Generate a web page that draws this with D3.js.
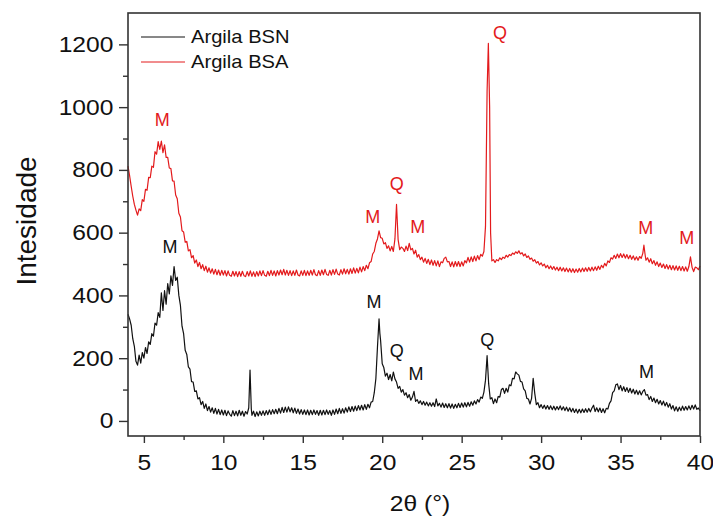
<!DOCTYPE html>
<html>
<head>
<meta charset="utf-8">
<script src="https://cdn.jsdelivr.net/npm/d3@7/dist/d3.min.js"></script>
<style>
  body { margin: 0; background: #fff; }
  svg text { font-family: "Liberation Sans", Arial, sans-serif; }
</style>
</head>
<body>
<div id="chart"></div>
<script>
// 2theta (deg), intensity
var bsn = [[4.0,340],[4.1,325],[4.2,305],[4.3,262],[4.4,238],[4.5,190],[4.6,178],[4.7,210],[4.8,184],[4.9,218],[5.0,200],[5.1,234],[5.2,215],[5.3,252],[5.4,244],[5.5,278],[5.6,270],[5.7,312],[5.8,305],[5.9,345],[6.0,330],[6.1,408],[6.2,352],[6.3,415],[6.4,372],[6.5,438],[6.6,405],[6.7,462],[6.8,432],[6.9,492],[7.0,448],[7.1,458],[7.2,400],[7.3,368],[7.4,302],[7.5,278],[7.6,225],[7.7,212],[7.8,172],[7.9,165],[8.0,125],[8.1,124],[8.2,94],[8.3,96],[8.4,70],[8.5,74],[8.6,52],[8.7,62],[8.8,40],[8.9,54],[9.0,33],[9.1,46],[9.2,28],[9.3,42],[9.4,24],[9.5,40],[9.6,22],[9.7,37],[9.8,20],[9.9,35],[10.0,19],[10.1,34],[10.2,17],[10.3,32],[10.4,21],[10.5,15],[10.6,33],[10.7,17],[10.8,31],[10.9,16],[11.0,34],[11.1,18],[11.2,31],[11.3,15],[11.4,30],[11.5,22],[11.6,42],[11.68,162],[11.76,38],[11.8,18],[11.9,31],[12.0,14],[12.1,29],[12.2,16],[12.3,31],[12.4,18],[12.5,32],[12.6,18],[12.7,33],[12.8,20],[12.9,35],[13.0,21],[13.1,36],[13.2,23],[13.3,37],[13.4,23],[13.5,40],[13.6,25],[13.7,43],[13.8,27],[13.9,44],[14.0,28],[14.1,45],[14.2,29],[14.3,42],[14.4,26],[14.5,41],[14.6,24],[14.7,38],[14.8,22],[14.9,36],[15.0,21],[15.1,35],[15.2,20],[15.3,35],[15.4,19],[15.5,34],[15.6,20],[15.7,35],[15.8,21],[15.9,33],[16.0,18],[16.1,34],[16.2,19],[16.3,34],[16.4,20],[16.5,35],[16.6,21],[16.7,33],[16.8,18],[16.9,35],[17.0,21],[17.1,38],[17.2,23],[17.3,40],[17.4,24],[17.5,39],[17.6,25],[17.7,42],[17.8,28],[17.9,45],[18.0,30],[18.1,46],[18.2,31],[18.3,47],[18.4,33],[18.5,49],[18.6,35],[18.7,50],[18.8,35],[18.9,52],[19.0,37],[19.1,53],[19.2,42],[19.3,60],[19.4,62],[19.5,90],[19.6,135],[19.7,235],[19.8,325],[19.85,280],[19.9,255],[20.0,182],[20.1,170],[20.2,143],[20.3,152],[20.4,132],[20.5,148],[20.6,128],[20.7,156],[20.8,134],[20.9,124],[21.0,104],[21.1,110],[21.2,92],[21.3,100],[21.4,82],[21.5,90],[21.6,74],[21.7,84],[21.8,66],[21.9,76],[22.0,94],[22.1,62],[22.2,68],[22.3,56],[22.4,64],[22.5,52],[22.6,62],[22.7,50],[22.8,60],[22.9,48],[23.0,58],[23.1,47],[23.2,58],[23.3,46],[23.4,70],[23.5,48],[23.6,56],[23.7,44],[23.8,57],[23.9,43],[24.0,55],[24.1,42],[24.2,55],[24.3,41],[24.4,54],[24.5,40],[24.6,53],[24.7,42],[24.8,56],[24.9,43],[25.0,57],[25.1,44],[25.2,58],[25.3,45],[25.4,59],[25.5,47],[25.6,61],[25.7,50],[25.8,64],[25.9,54],[26.0,68],[26.1,60],[26.2,76],[26.3,72],[26.4,92],[26.5,130],[26.6,208],[26.7,118],[26.8,70],[26.9,74],[27.0,55],[27.1,70],[27.2,58],[27.3,78],[27.4,76],[27.5,100],[27.6,104],[27.7,88],[27.8,104],[27.9,92],[28.0,115],[28.1,112],[28.2,136],[28.3,134],[28.4,156],[28.5,150],[28.6,146],[28.7,126],[28.8,124],[28.9,102],[29.0,96],[29.1,72],[29.2,70],[29.3,54],[29.4,72],[29.5,136],[29.6,88],[29.7,52],[29.8,58],[29.9,42],[30.0,52],[30.1,40],[30.2,50],[30.3,38],[30.4,49],[30.5,37],[30.6,48],[30.7,36],[30.8,47],[30.9,35],[31.0,46],[31.1,36],[31.2,48],[31.3,35],[31.4,45],[31.5,33],[31.6,44],[31.7,31],[31.8,42],[31.9,29],[32.0,40],[32.1,27],[32.2,38],[32.3,25],[32.4,37],[32.5,26],[32.6,38],[32.7,27],[32.8,39],[32.9,28],[33.0,40],[33.1,29],[33.2,41],[33.3,50],[33.4,30],[33.5,42],[33.6,29],[33.7,41],[33.8,27],[33.9,39],[34.0,26],[34.1,40],[34.2,38],[34.3,56],[34.4,64],[34.5,90],[34.6,96],[34.7,115],[34.8,118],[34.9,100],[35.0,113],[35.1,96],[35.2,109],[35.3,94],[35.4,106],[35.5,91],[35.6,104],[35.7,89],[35.8,101],[35.9,86],[36.0,98],[36.1,84],[36.2,96],[36.3,83],[36.4,94],[36.5,100],[36.6,82],[36.7,84],[36.8,68],[36.9,78],[37.0,62],[37.1,73],[37.2,58],[37.3,69],[37.4,54],[37.5,65],[37.6,51],[37.7,63],[37.8,48],[37.9,59],[38.0,44],[38.1,55],[38.2,38],[38.3,49],[38.4,32],[38.5,45],[38.6,31],[38.7,44],[38.8,33],[38.9,47],[39.0,34],[39.1,46],[39.2,35],[39.3,48],[39.4,36],[39.5,50],[39.6,38],[39.7,51],[39.8,37],[39.9,41],[40.0,33]];

var bsa = [[4.0,812],[4.1,782],[4.2,748],[4.3,716],[4.4,690],[4.5,672],[4.6,656],[4.7,676],[4.8,670],[4.9,705],[5.0,700],[5.1,738],[5.2,735],[5.3,776],[5.4,775],[5.5,812],[5.6,808],[5.7,858],[5.8,850],[5.9,890],[6.0,865],[6.1,892],[6.2,855],[6.3,880],[6.4,840],[6.5,840],[6.6,806],[6.7,804],[6.8,765],[6.9,764],[7.0,720],[7.1,708],[7.2,662],[7.3,650],[7.4,606],[7.5,602],[7.6,570],[7.7,572],[7.8,542],[7.9,546],[8.0,520],[8.1,527],[8.2,503],[8.3,513],[8.4,492],[8.5,505],[8.6,485],[8.7,498],[8.8,479],[8.9,493],[9.0,474],[9.1,488],[9.2,471],[9.3,485],[9.4,468],[9.5,483],[9.6,466],[9.7,481],[9.8,464],[9.9,480],[10.0,465],[10.1,479],[10.2,462],[10.3,478],[10.4,464],[10.5,461],[10.6,477],[10.7,462],[10.8,476],[10.9,460],[11.0,476],[11.1,461],[11.2,477],[11.3,463],[11.4,460],[11.5,476],[11.6,462],[11.7,478],[11.8,461],[11.9,475],[12.0,460],[12.1,476],[12.2,462],[12.3,478],[12.4,463],[12.5,479],[12.6,464],[12.7,461],[12.8,477],[12.9,463],[13.0,480],[13.1,464],[13.2,478],[13.3,462],[13.4,479],[13.5,465],[13.6,481],[13.7,466],[13.8,483],[13.9,465],[14.0,480],[14.1,464],[14.2,479],[14.3,463],[14.4,478],[14.5,464],[14.6,481],[14.7,465],[14.8,462],[14.9,478],[15.0,464],[15.1,480],[15.2,463],[15.3,478],[15.4,464],[15.5,480],[15.6,465],[15.7,482],[15.8,466],[15.9,463],[16.0,479],[16.1,464],[16.2,481],[16.3,466],[16.4,483],[16.5,467],[16.6,464],[16.7,480],[16.8,465],[16.9,482],[17.0,467],[17.1,484],[17.2,468],[17.3,465],[17.4,482],[17.5,468],[17.6,485],[17.7,469],[17.8,483],[17.9,468],[18.0,485],[18.1,470],[18.2,488],[18.3,471],[18.4,486],[18.5,472],[18.6,490],[18.7,475],[18.8,492],[18.9,479],[19.0,496],[19.1,485],[19.2,504],[19.3,508],[19.4,532],[19.5,540],[19.6,566],[19.7,580],[19.8,606],[19.9,584],[20.0,582],[20.1,564],[20.2,568],[20.3,550],[20.4,558],[20.5,542],[20.6,556],[20.7,540],[20.8,580],[20.9,690],[21.0,578],[21.1,546],[21.2,554],[21.3,550],[21.4,540],[21.5,557],[21.6,543],[21.7,566],[21.8,545],[21.9,550],[22.0,532],[22.1,544],[22.2,522],[22.3,530],[22.4,514],[22.5,522],[22.6,506],[22.7,518],[22.8,502],[22.9,515],[23.0,498],[23.1,513],[23.2,496],[23.3,511],[23.4,494],[23.5,510],[23.6,492],[23.7,507],[23.8,504],[23.9,518],[24.0,522],[24.1,507],[24.2,508],[24.3,492],[24.4,507],[24.5,491],[24.6,508],[24.7,493],[24.8,508],[24.9,492],[25.0,507],[25.1,494],[25.2,511],[25.3,504],[25.4,521],[25.5,506],[25.6,523],[25.7,508],[25.8,525],[25.9,510],[26.0,527],[26.1,514],[26.2,531],[26.3,525],[26.4,540],[26.5,620],[26.6,1050],[26.68,1203],[26.76,1000],[26.82,600],[26.9,510],[27.0,514],[27.1,505],[27.2,514],[27.3,510],[27.4,520],[27.5,514],[27.6,522],[27.7,518],[27.8,528],[27.9,522],[28.0,530],[28.1,527],[28.2,535],[28.3,531],[28.4,539],[28.5,534],[28.6,542],[28.7,532],[28.8,536],[28.9,526],[29.0,532],[29.1,521],[29.2,526],[29.3,515],[29.4,519],[29.5,509],[29.6,514],[29.7,503],[29.8,508],[29.9,497],[30.0,504],[30.1,494],[30.2,500],[30.3,488],[30.4,496],[30.5,485],[30.6,494],[30.7,483],[30.8,492],[30.9,481],[31.0,490],[31.1,479],[31.2,490],[31.3,478],[31.4,488],[31.5,476],[31.6,487],[31.7,475],[31.8,486],[31.9,474],[32.0,485],[32.1,473],[32.2,484],[32.3,474],[32.4,486],[32.5,475],[32.6,487],[32.7,476],[32.8,488],[32.9,477],[33.0,489],[33.1,478],[33.2,490],[33.3,479],[33.4,491],[33.5,480],[33.6,493],[33.7,483],[33.8,496],[33.9,488],[34.0,502],[34.1,494],[34.2,510],[34.3,505],[34.4,520],[34.5,516],[34.6,528],[34.7,518],[34.8,532],[34.9,520],[35.0,533],[35.1,521],[35.2,532],[35.3,519],[35.4,530],[35.5,517],[35.6,528],[35.7,515],[35.8,526],[35.9,513],[36.0,523],[36.1,512],[36.2,524],[36.3,518],[36.4,534],[36.47,560],[36.55,528],[36.6,512],[36.7,520],[36.8,506],[36.9,517],[37.0,501],[37.1,511],[37.2,496],[37.3,507],[37.4,492],[37.5,503],[37.6,489],[37.7,500],[37.8,486],[37.9,498],[38.0,484],[38.1,496],[38.2,482],[38.3,495],[38.4,481],[38.5,494],[38.6,480],[38.7,493],[38.8,479],[38.9,492],[39.0,478],[39.1,491],[39.2,477],[39.3,492],[39.4,523],[39.5,490],[39.6,476],[39.7,490],[39.8,488],[39.9,482],[40.0,494]];

// peak labels: [label, 2theta, intensity]
var bsnPeaks = [["M",6.64,555],["M",19.48,380],["Q",20.91,224],["M",22.12,150],["Q",26.61,260],["M",36.64,157]];
var bsaPeaks = [["M",6.16,962],["M",19.40,651],["Q",20.91,757],["M",22.23,621],["Q",27.41,1237],["M",36.58,617],["M",39.16,585]];

var seriesNames = ["Argila BSN", "Argila BSA"];
var xTicks = [5, 10, 15, 20, 25, 30, 35, 40];
var yTicks = [0, 200, 400, 600, 800, 1000, 1200];

var W = 713, H = 516;
var margin = {left: 128, top: 13, right: 13, bottom: 80};
var red = "#e31a1c", black = "#111";
var stretch = "scale(1.12,1)"; // the source font is drawn a bit wide

var svg = d3.select("#chart").append("svg")
	.attr("width", W)
	.attr("height", H);

var x = d3.scaleLinear().domain([4, 40]).range([margin.left, W - margin.right]);
var y = d3.scaleLinear().domain([-48, 1300]).range([H - margin.bottom, margin.top]);

var line = d3.line()
	.x(function(d){ return x(d[0]); })
	.y(function(d){ return y(d[1]); });

svg.append("path").datum(bsn)
	.attr("d", line)
	.attr("fill", "none")
	.attr("stroke", black)
	.attr("stroke-width", 1.2)
	.attr("stroke-linejoin", "round");

svg.append("path").datum(bsa)
	.attr("d", line)
	.attr("fill", "none")
	.attr("stroke", red)
	.attr("stroke-width", 1.2)
	.attr("stroke-linejoin", "round");

// minor ticks first, then major
var xMinor = d3.axisBottom(x).tickValues(d3.range(7.5, 40, 5)).tickSize(4).tickFormat("");
var yMinor = d3.axisLeft(y).tickValues(d3.range(100, 1300, 200)).tickSize(5).tickFormat("");
var xAxis = d3.axisBottom(x).tickValues(xTicks).tickSize(7).tickPadding(11).tickFormat(d3.format("d"));
var yAxis = d3.axisLeft(y).tickValues(yTicks).tickSize(9).tickPadding(4).tickFormat(d3.format("d"));

function styleAxis(g) {
	g.select(".domain").remove();
	g.selectAll("line").attr("stroke", "#333").attr("stroke-width", 1.4);
	g.selectAll("text").attr("fill", "#111").attr("font-size", 22).attr("transform", stretch);
}

svg.append("g").attr("transform", "translate(0," + (H - margin.bottom) + ")").call(xMinor).call(styleAxis);
svg.append("g").attr("transform", "translate(" + margin.left + ",0)").call(yMinor).call(styleAxis);
svg.append("g").attr("transform", "translate(0," + (H - margin.bottom) + ")").call(xAxis).call(styleAxis);
svg.append("g").attr("transform", "translate(" + margin.left + ",0)").call(yAxis).call(styleAxis);

svg.append("rect")
	.attr("x", margin.left)
	.attr("y", margin.top)
	.attr("width", W - margin.left - margin.right)
	.attr("height", H - margin.top - margin.bottom)
	.attr("fill", "none")
	.attr("stroke", "#333")
	.attr("stroke-width", 1.6);

// peak labels
function drawPeaks(peaks, col) {
	svg.append("g").selectAll("text")
		.data(peaks)
		.enter()
		.append("text")
		.attr("x", function(d){ return x(d[1]); })
		.attr("y", function(d){ return y(d[2]); })
		.attr("dy", "0.36em")
		.attr("text-anchor", "middle")
		.attr("font-size", 18)
		.attr("fill", col)
		.text(function(d){ return d[0]; });
}
drawPeaks(bsnPeaks, "#111");
drawPeaks(bsaPeaks, red);

// legend
var legend = svg.append("g").attr("transform", "translate(141,37)");
[black, red].forEach(function(c, i){
	legend.append("line")
		.attr("x1", 0).attr("x2", 44)
		.attr("y1", i * 25).attr("y2", i * 25)
		.attr("stroke", c).attr("stroke-width", 1);
	legend.append("text")
		.attr("transform", "translate(50," + (i * 25) + ") " + stretch)
		.attr("dy", "0.36em")
		.attr("font-size", 18)
		.attr("fill", "#111")
		.text(seriesNames[i]);
});

// axis titles
svg.append("text")
	.attr("transform", "translate(36,221) rotate(-90)")
	.attr("text-anchor", "middle")
	.attr("font-size", 28)
	.attr("fill", "#111")
	.text("Intesidade");

svg.append("text")
	.attr("transform", "translate(420,511) " + stretch)
	.attr("text-anchor", "middle")
	.attr("font-size", 22)
	.attr("fill", "#111")
	.text("2θ (°)");
</script>
</body>
</html>
